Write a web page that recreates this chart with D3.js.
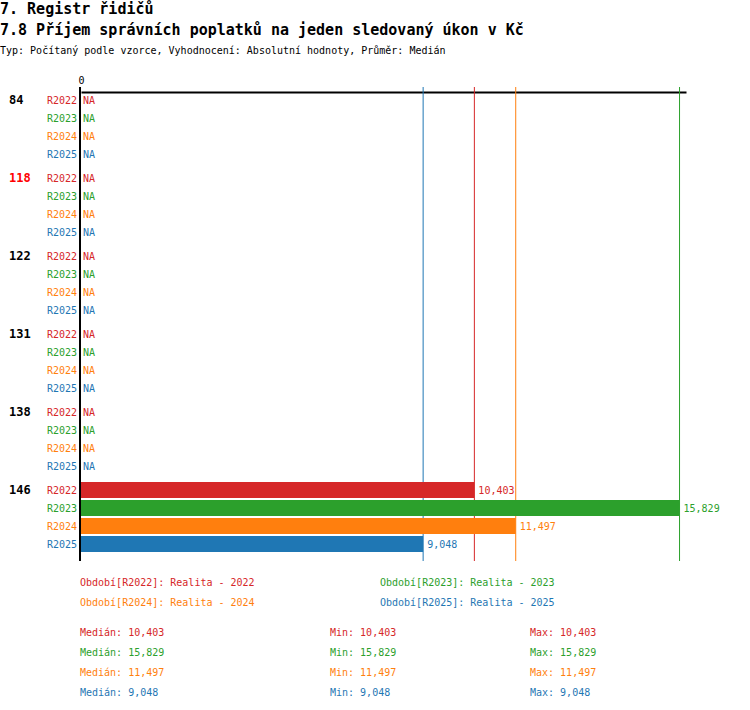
<!DOCTYPE html>
<html><head><meta charset="utf-8">
<script src="https://cdn.jsdelivr.net/npm/d3@7/dist/d3.min.js"></script>
<style>
body{margin:0;background:#fff;}
text{font-family:"DejaVu Sans Mono",monospace;}
</style></head>
<body><svg id="c" width="750" height="710"></svg>
<script>
const title = "7. Registr řidičů";
const subtitle = "7.8 Příjem správních poplatků na jeden sledovaný úkon v Kč";
const info = "Typ: Počítaný podle vzorce, Vyhodnocení: Absolutní hodnoty, Průměr: Medián";
const categories = ["84","118","122","131","138","146"];
const categoryColors = ["#000","#ff0000","#000","#000","#000","#000"];
const series = ["R2022","R2023","R2024","R2025"];
const seriesNames = ["Realita - 2022","Realita - 2023","Realita - 2024","Realita - 2025"];
const colors = ["#d62728","#2ca02c","#ff7f0e","#1f77b4"];
const valuesR2022 = [null,null,null,null,null,10403];
const valuesR2023 = [null,null,null,null,null,15829];
const valuesR2024 = [null,null,null,null,null,11497];
const valuesR2025 = [null,null,null,null,null,9048];
const values = [valuesR2022,valuesR2023,valuesR2024,valuesR2025];
const medians = [10403,15829,11497,9048];
const mins = [10403,15829,11497,9048];
const maxs = [10403,15829,11497,9048];
const xTicks = [0];

const svg = d3.select("#c");
const fmt = d3.format(",");
const x = d3.scaleLinear().domain([0,16000]).range([81,686]);
const rowH = 18, groupH = 78, top0 = 100;
const yCenter = (g,s) => top0 + g*groupH + s*rowH;

svg.append("text").attr("x",0).attr("y",14).attr("font-size",15).attr("font-weight","bold").text(title);
svg.append("text").attr("x",0).attr("y",35).attr("font-size",15).attr("font-weight","bold").text(subtitle);
svg.append("text").attr("x",0).attr("y",54).attr("font-size",10).text(info);

// top axis
const axisG = svg.append("g").attr("transform","translate(0,92)")
  .call(d3.axisTop(x).tickValues(xTicks).tickSize(0).tickSizeOuter(0).tickPadding(8).tickFormat(d3.format("d")));
axisG.select(".domain").attr("stroke","#000").attr("stroke-width",2);
axisG.selectAll("text").attr("font-size",10).attr("font-family","DejaVu Sans Mono");

// reference lines (medians)
svg.selectAll("line.ref").data(medians).enter().append("line")
  .attr("x1",d=>x(d)).attr("x2",d=>x(d)).attr("y1",87).attr("y2",561)
  .attr("stroke",(d,i)=>colors[i]).attr("stroke-width",1);

// bars
categories.forEach((c,g)=>{
  svg.append("text").attr("x",9).attr("y",yCenter(g,0)).attr("dy","0.35em")
    .attr("font-size",12).attr("font-weight","bold").attr("fill",categoryColors[g]).text(c);
  series.forEach((s,si)=>{
    const v = values[si][g];
    const yc = yCenter(g,si);
    svg.append("text").attr("x",77).attr("y",yc).attr("dy","0.35em").attr("text-anchor","end")
      .attr("font-size",10).attr("fill",colors[si]).text(s);
    if(v==null){
      svg.append("text").attr("x",83).attr("y",yc).attr("dy","0.35em")
        .attr("font-size",10).attr("fill",colors[si]).text("NA");
    } else {
      svg.append("rect").attr("x",x(0)).attr("y",yc-8).attr("width",x(v)-x(0)).attr("height",16)
        .attr("fill",colors[si]);
      svg.append("text").attr("x",x(v)+4).attr("y",yc).attr("dy","0.35em")
        .attr("font-size",10).attr("fill",colors[si]).text(fmt(v));
    }
  });
});

// vertical zero axis
svg.append("line").attr("x1",80).attr("x2",80).attr("y1",87).attr("y2",561)
  .attr("stroke","#000").attr("stroke-width",2);

// legend
series.forEach((s,i)=>{
  const lx = i%2===0 ? 80 : 380;
  const ly = i<2 ? 582 : 602;
  svg.append("text").attr("x",lx).attr("y",ly).attr("dy","0.35em").attr("font-size",10)
    .attr("fill",colors[i]).text("Období["+s+"]: "+seriesNames[i]);
});

// stats
series.forEach((s,i)=>{
  const ly = 632 + i*20;
  svg.append("text").attr("x",80).attr("y",ly).attr("dy","0.35em").attr("font-size",10)
    .attr("fill",colors[i]).text("Medián: "+fmt(medians[i]));
  svg.append("text").attr("x",330).attr("y",ly).attr("dy","0.35em").attr("font-size",10)
    .attr("fill",colors[i]).text("Min: "+fmt(mins[i]));
  svg.append("text").attr("x",530).attr("y",ly).attr("dy","0.35em").attr("font-size",10)
    .attr("fill",colors[i]).text("Max: "+fmt(maxs[i]));
});
</script></body></html>
